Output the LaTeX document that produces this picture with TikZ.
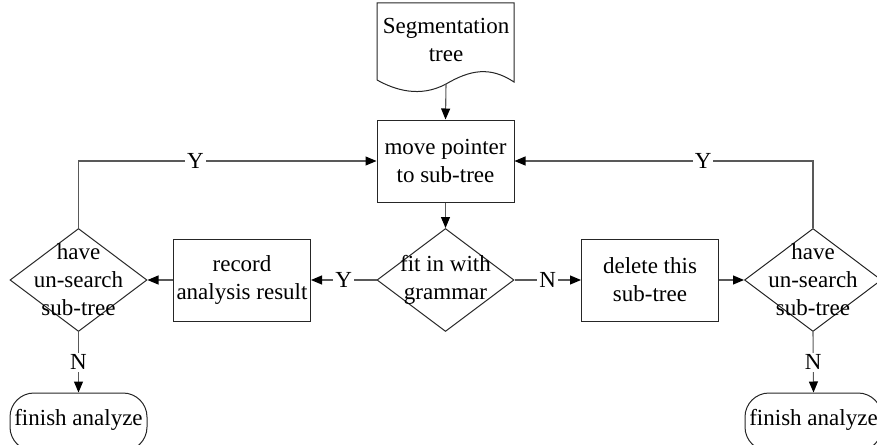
\documentclass[tikz,border=0pt]{standalone}
\usepackage{fontspec}
\setmainfont{Liberation Serif}
\usetikzlibrary{shapes.geometric,arrows.meta}
\begin{document}
\begin{tikzpicture}[x=1pt,y=-1pt,
  txt/.style={font=\fontsize{23}{28}\selectfont, align=center, inner sep=0pt},
  procbox/.style={draw=black!85, line width=1pt, minimum width=137pt, minimum height=82pt, inner sep=0pt},
  dia/.style={draw=black!85, line width=1pt, diamond, minimum width=137pt, minimum height=103pt, inner sep=0pt, aspect=1.33},
  term/.style={draw=black!85, line width=1pt, rectangle, rounded corners=24pt, minimum width=137pt, minimum height=58pt, inner sep=0pt},
  conn/.style={draw=black!65, line width=1.1pt, -{Triangle[length=11pt,width=9pt,color=black]}},
  lab/.style={font=\fontsize{23}{28}\selectfont, fill=white, inner sep=2pt}
]
\useasboundingbox (0,0) rectangle (877,444);
% document shape
\node[txt] (doc) at (446,40) {Segmentation\\tree};
\draw[draw=black!85, line width=1pt] (377,80) -- (377,3) -- (514,3) -- (514,82)
  .. controls (490,66) and (470,70) .. (446,84)
  .. controls (420,98) and (395,90) .. (377,80);
\coordinate (docb) at (446,84);
% nodes
\node[procbox] (move) at (445.5,161) {};
\node[txt] at (move) {move pointer\\to sub-tree};
\node[dia] (fit) at (445.5,280) {};
\node[txt] at (fit) {fit in with\\grammar};
\node[procbox] (rec) at (242,280) {};
\node[txt] at (rec) {record\\analysis result};
\node[procbox] (del) at (650,280) {};
\node[txt] at (del) {delete this\\sub-tree};
\node[dia] (d1) at (78.5,280) {};
\node[txt] at (d1) {have\\un-search\\sub-tree};
\node[dia] (d2) at (813,280) {};
\node[txt] at (d2) {have\\un-search\\sub-tree};
\node[term] (t1) at (78.5,422) {};
\node[txt] at (78.5,420) {finish analyze};
\node[term] (t2) at (813.5,422) {};
\node[txt] at (813.5,420) {finish analyze};
% connectors
\draw[conn] (docb) -- (move.north);
\draw[conn] (move.south) -- (fit.north);
\draw[conn] (fit.west) -- node[lab] {Y} (rec.east);
\draw[conn] (fit.east) -- node[lab] {N} (del.west);
\draw[conn] (rec.west) -- (d1.east);
\draw[conn] (del.east) -- (d2.west);
\draw[conn] (d1.north) |- node[lab, pos=0.696] {Y} (move.west);
\draw[conn] (d2.north) |- node[lab, pos=0.684] {Y} (move.east);
\draw[conn] (d1.south) -- node[lab, pos=0.5] {N} (t1.north);
\draw[conn] (d2.south) -- node[lab, pos=0.5] {N} (t2.north);
\end{tikzpicture}
\end{document}
